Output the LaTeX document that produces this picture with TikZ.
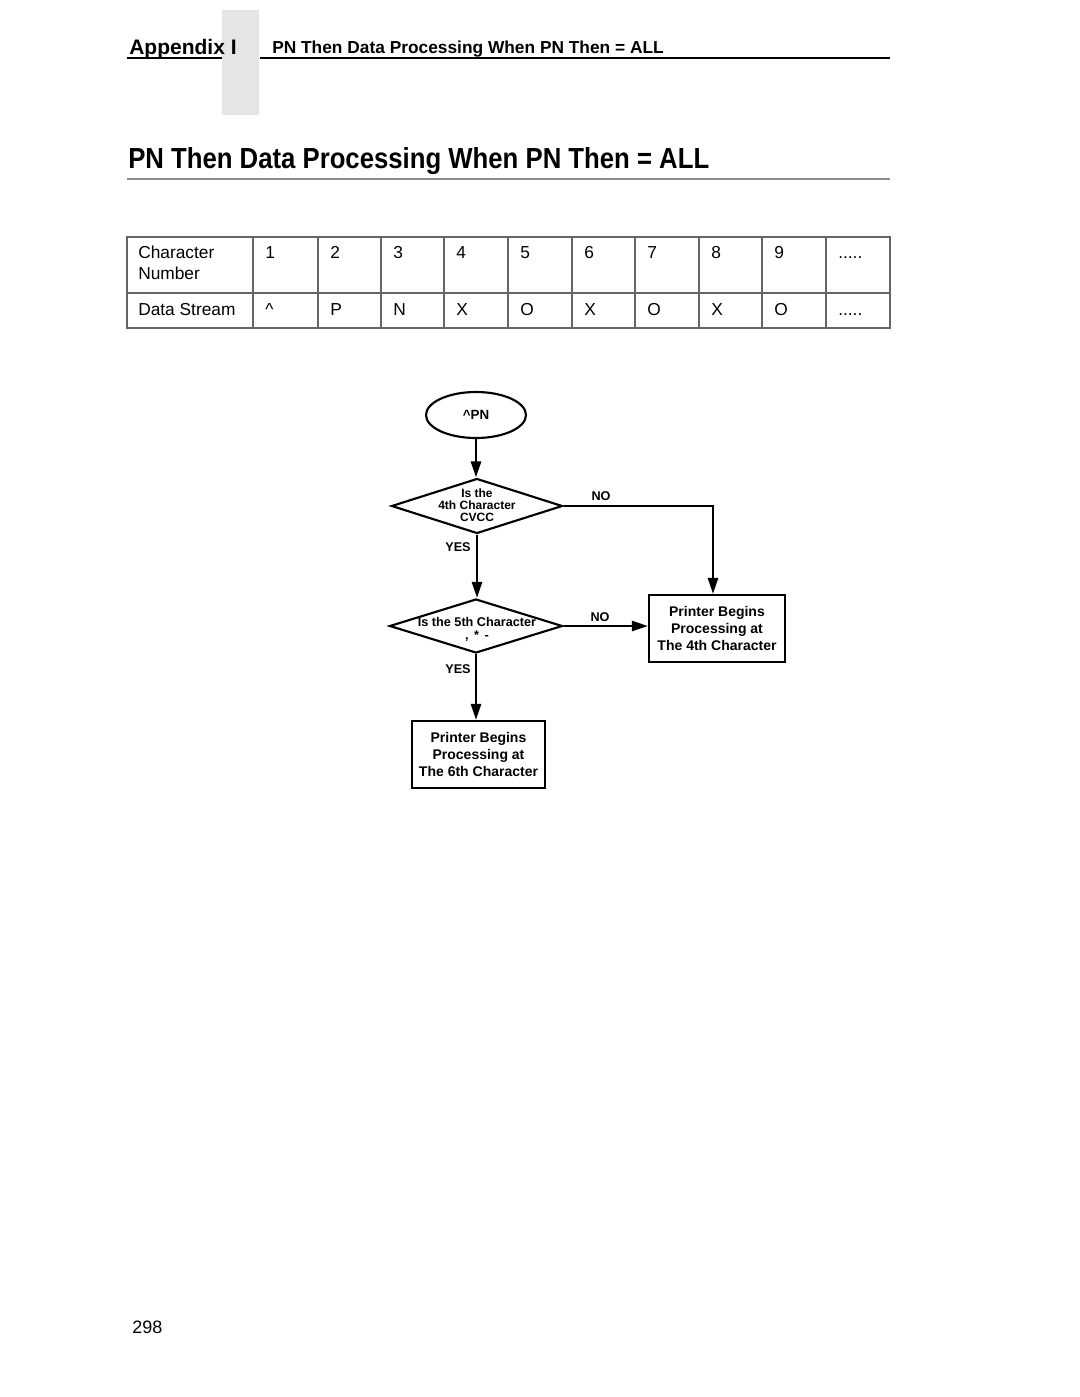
\documentclass[tikz,border=0pt]{standalone}
\usepackage{fontspec}
\usepackage{graphicx}
\setmainfont{Liberation Sans}
\usetikzlibrary{shapes.geometric,arrows.meta}
\newcommand\myfivedots{.....}
\tikzset{
  cell/.style={anchor=base west, inner sep=0pt, font=\fontsize{13}{15}\selectfont},
  tbl/.style={draw=black!60, line width=0.8pt},
  arr/.style={line width=1.9pt, -{Triangle[length=12pt,width=7.5pt]}},
  procbox/.style={draw, line width=1.6pt, rectangle, inner sep=0pt, align=center,
    font=\fontsize{10.5}{12.75}\bfseries},
  decbox/.style={draw, line width=1.6pt, diamond, inner sep=0pt},
  dectext/.style={inner sep=0pt, align=center},
  yesno/.style={inner sep=0pt, font=\fontsize{9.5}{11}\bfseries}
}
\begin{document}
\begin{tikzpicture}[x=0.75pt,y=-0.75pt]
\useasboundingbox (0,0) rectangle (1080,1397);
\fill[white] (0,0) rectangle (1080,1397);

% header tab and rules
\fill[black!10] (222,10) rectangle (259,115);
\draw[line width=1.5pt] (127,58) -- (222,58);
\draw[line width=1.5pt] (260,58) -- (890,58);
\node[anchor=base west, inner sep=0pt, font=\fontsize{15.75}{18}\bfseries] (app) at (129,54) {Appendix I};
\node[anchor=base west, inner sep=0pt, font=\fontsize{13}{15}\bfseries] (hdr) at (272,53) {PN Then Data Processing When PN Then = ALL};

% title
\node[anchor=base west, inner sep=0pt, font=\fontsize{21.75}{24}\bfseries] (title) at (128,168)
  {\scalebox{0.887}[1]{PN Then Data Processing When PN Then = ALL}};
\draw[black!45, line width=1.2pt] (127,179) -- (890,179);

% table
\draw[tbl] (127,237) rectangle (890,328);
\draw[tbl] (127,293) -- (890,293);
\foreach \x in {253,318,381,444,508,572,635,699,762,826}
  \draw[tbl] (\x,237) -- (\x,328);
\node[cell] (ch1) at (138,258) {Character};
\node[cell] (ch2) at (138,279) {Number};
\node[cell] (ds) at (138,315) {Data Stream};
\foreach \x/\n/\d [count=\i] in {265/1/\textasciicircum, 330/2/P, 393/3/N, 456/4/X, 520/5/O, 584/6/X, 647/7/O, 711/8/X, 774/9/O, 838/\myfivedots/\myfivedots}{
  \node[cell] (n\i) at (\x,258) {\n};
  \node[cell] (d\i) at (\x,315) {\d};
}

% flowchart
\node[draw, ellipse, line width=1.6pt, minimum width=75pt, minimum height=34.5pt, inner sep=0pt,
  font=\fontsize{10}{12}\bfseries] (start) at (476,415) {\textasciicircum PN};

\node[decbox, minimum width=128.25pt, minimum height=41.25pt] (d1) at (477,506) {};
\node[dectext, font=\fontsize{9}{8.8}\bfseries] (t1) at (477,505) {Is the\\4th Character\\CVCC};

\node[decbox, minimum width=129.75pt, minimum height=40.5pt] (d2) at (476,626) {};
\node[dectext, font=\fontsize{9.5}{9.75}\bfseries] (t2) at (477,629) {Is the 5th Character\\,\,\ *\,\ -};

\node[procbox, minimum width=102pt, minimum height=50.25pt] (b4) at (717,628.5)
  {Printer Begins\\Processing at\\The 4th Character};
\node[procbox, minimum width=99.75pt, minimum height=50.25pt] (b6) at (478.5,754.5)
  {Printer Begins\\Processing at\\The 6th Character};

\draw[arr] (start.south) -- (start.south |- d1.north);
\draw[arr] (d1.east) -| ([xshift=-3pt]b4.north);
\draw[arr] (d1.south) -- (d1.south |- d2.north);
\draw[arr] (d2.east) -- (d2.east -| b4.west);
\draw[arr] (d2.south) -- (d2.south |- b6.north);

\node[yesno] (no1) at (601,496) {NO};
\node[yesno] (yes1) at (458,547) {YES};
\node[yesno] (no2) at (600,617) {NO};
\node[yesno] (yes2) at (458,669) {YES};

% page number
\node[anchor=base west, inner sep=0pt, font=\fontsize{13.5}{16}\selectfont] (page) at (132,1333) {298};
\end{tikzpicture}
\end{document}
